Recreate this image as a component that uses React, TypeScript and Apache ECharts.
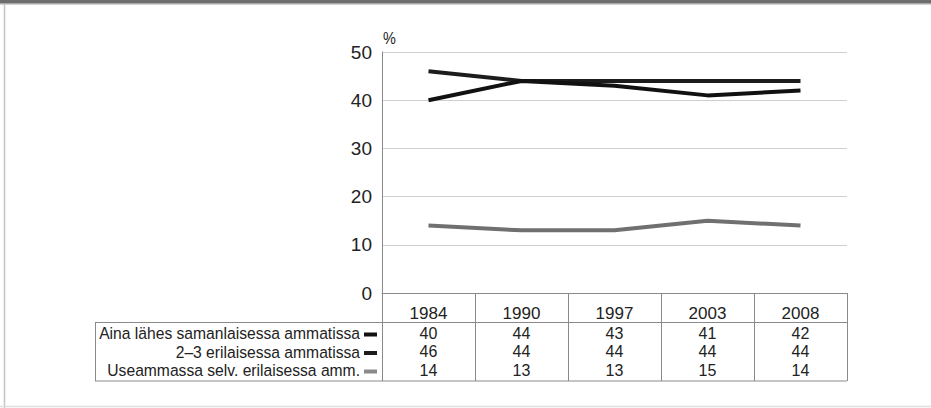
import React, { useEffect, useRef } from "react";
import * as echarts from "echarts";

const years = ["1984", "1990", "1997", "2003", "2008"];
const seriesNames = [
  "Aina lähes samanlaisessa ammatissa",
  "2–3 erilaisessa ammatissa",
  "Useammassa selv. erilaisessa amm.",
];
const ainaSamanlainen = [40, 44, 43, 41, 42];
const kaksiKolme = [46, 44, 44, 44, 44];
const useammassa = [14, 13, 13, 15, 14];
const seriesColors = ["#111111", "#1c1c1c", "#707070"];
const yMin = 0;
const yMax = 50;
const yStep = 10;
const yUnit = "%";

const FONT = '"Liberation Sans", Arial, sans-serif';

export default function App() {
  const ref = useRef<HTMLDivElement>(null);
  useEffect(() => {
    if (!ref.current) return;
    const chart = echarts.init(ref.current, undefined, { renderer: "svg" });
    const values = [ainaSamanlainen, kaksiKolme, useammassa];
    const gridLeft = 382;
    const gridRight = 847;
    const axisY = 293;
    const tableBottom = 381;
    const labelBoxLeft = 95;
    const rowYs = [333, 351.5, 370];
    const labelRight = 360;
    const labelTargetWidth = 261;

    // measure the longest row label to compress it like the condensed original font
    const canvas = document.createElement("canvas");
    const ctx = canvas.getContext("2d")!;
    ctx.font = `17px ${FONT}`;
    const widest = Math.max(...seriesNames.map((n) => ctx.measureText(n).width));
    const sx = Math.min(1, labelTargetWidth / widest);

    const graphic: any[] = [
      { type: "rect", shape: { x: 0, y: 0, width: 931, height: 4 }, style: { fill: "#6e6e6e" } },
      { type: "rect", shape: { x: 0, y: 3, width: 931, height: 1.5 }, style: { fill: "#a8a8a8" } },
      { type: "line", shape: { x1: 4.5, y1: 4, x2: 4.5, y2: 408 }, style: { stroke: "#c4c4c4", lineWidth: 1.5 } },
      { type: "line", shape: { x1: 0, y1: 406.5, x2: 931, y2: 406.5 }, style: { stroke: "#dedede", lineWidth: 1.5 } },
      { type: "line", shape: { x1: labelBoxLeft, y1: 322.5, x2: gridRight, y2: 322.5 }, style: { stroke: "#8a8a8a", lineWidth: 1 } },
      { type: "line", shape: { x1: labelBoxLeft, y1: tableBottom, x2: gridRight, y2: tableBottom }, style: { stroke: "#8a8a8a", lineWidth: 1 } },
      { type: "line", shape: { x1: labelBoxLeft + 0.5, y1: 322.5, x2: labelBoxLeft + 0.5, y2: tableBottom }, style: { stroke: "#8a8a8a", lineWidth: 1 } },
      {
        type: "text",
        x: 383,
        y: 38,
        scaleX: 0.85,
        style: { text: yUnit, font: `17px ${FONT}`, fill: "#222", textAlign: "left", textVerticalAlign: "middle" },
      },
    ];
    seriesNames.forEach((name, i) => {
      graphic.push({
        type: "text",
        x: labelRight,
        y: rowYs[i],
        scaleX: sx,
        style: { text: name, font: `17px ${FONT}`, fill: "#222", textAlign: "right", textVerticalAlign: "middle" },
      });
      graphic.push({
        type: "line",
        shape: { x1: 364, y1: rowYs[i] + 1.5, x2: 377, y2: rowYs[i] + 1.5 },
        style: { stroke: i === 2 ? "#8a8a8a" : seriesColors[i], lineWidth: 4 },
      });
    });

    chart.setOption({
      animation: false,
      backgroundColor: "#ffffff",
      grid: { left: gridLeft, right: 931 - gridRight, top: 52, bottom: 408 - axisY },
      xAxis: {
        type: "category",
        data: years,
        boundaryGap: true,
        axisLine: { show: true, lineStyle: { color: "#8a8a8a", width: 1 } },
        axisTick: { show: true, interval: 0, length: tableBottom - axisY, lineStyle: { color: "#8a8a8a", width: 1 } },
        axisLabel: {
          interval: 0,
          margin: 9,
          formatter: (val: string, idx: number) =>
            `{h|${val}}\n{a|${values[0][idx]}}\n{b|${values[1][idx]}}\n{c|${values[2][idx]}}`,
          rich: {
            h: { fontFamily: FONT, fontSize: 17, color: "#222", lineHeight: 22 },
            a: { fontFamily: FONT, fontSize: 16, color: "#222", lineHeight: 18.5 },
            b: { fontFamily: FONT, fontSize: 16, color: "#222", lineHeight: 18.5 },
            c: { fontFamily: FONT, fontSize: 16, color: "#222", lineHeight: 18.5 },
          },
        },
        splitLine: { show: false },
      },
      yAxis: {
        type: "value",
        min: yMin,
        max: yMax,
        interval: yStep,
        axisLine: { show: true, lineStyle: { color: "#8a8a8a", width: 1 } },
        axisTick: { show: false },
        axisLabel: { margin: 10, fontFamily: FONT, fontSize: 19, color: "#222" },
        splitLine: { show: true, lineStyle: { color: "#cfcfcf", width: 1 } },
      },
      series: values.map((v, i) => ({
        type: "line",
        name: seriesNames[i],
        data: v,
        symbol: "none",
        lineStyle: { color: seriesColors[i], width: 4 },
        z: 3 - i,
      })),
      graphic,
    });
    return () => chart.dispose();
  }, []);
  return (
    <div
      ref={ref}
      style={{ position: "fixed", left: 0, top: 0, width: 931, height: 408, background: "#fff" }}
    />
  );
}
